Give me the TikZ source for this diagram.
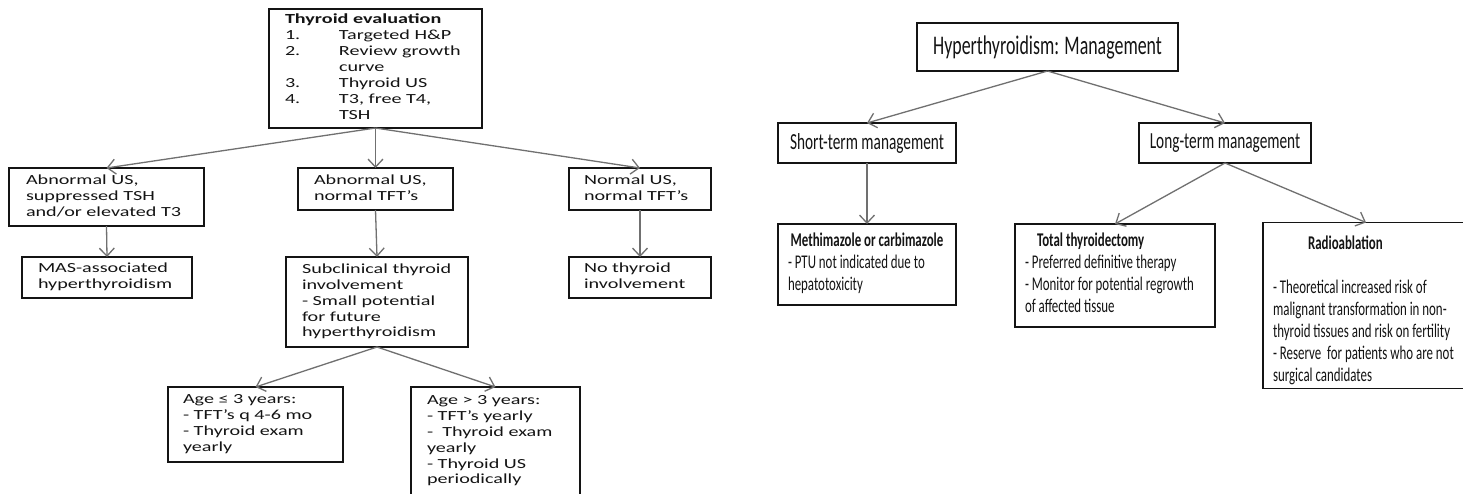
\documentclass[tikz,border=0pt]{standalone}
\usepackage{fontspec}
\usetikzlibrary{arrows.meta}

% Calibri-metric face, widened for the evaluation chart, narrowed for the management chart
\newfontfamily\leftfont[FakeStretch=1.45]{Carlito}
\newfontfamily\rightfont[FakeStretch=0.665]{Carlito}

\definecolor{ink}{HTML}{141414}
\definecolor{linkgray}{HTML}{707070}

% a block of left-aligned lines inside a box of fixed inner width
\newcommand\lines[2]{\makebox[#1][l]{\begin{tabular}{@{}l@{}}#2\end{tabular}}}

\tikzset{
  box/.style={draw=ink, line width=1.7pt, rectangle, inner sep=0pt, outer sep=0pt, text=ink},
  lbox/.style={box, font={\leftfont\fontsize{13.9}{15.9}\selectfont}},
  rbody/.style={box, font={\rightfont\fontsize{19.4}{22}\selectfont}},
  rmid/.style={box, font={\rightfont\fontsize{23}{26}\selectfont}},
  rtitle/.style={box, font={\rightfont\fontsize{26.9}{30}\selectfont}},
  link/.style={draw=linkgray, line width=1.3pt, -{Straight Barb[length=8pt,width=15pt]}}
}

\begin{document}
\begin{tikzpicture}[x=1pt, y=-1pt]
\useasboundingbox (0,0) rectangle (1463,493);
\fill[white] (0,0) rectangle (1463,493);
\clip (0,0) rectangle (1463,493);

% ---------------- thyroid evaluation chart ----------------
\node[lbox, minimum width=213pt, minimum height=119pt] (eval) at (375.5,68.5)
  {\lines{181pt}{\bfseries Thyroid evaluation\\
   \makebox[54pt][l]{1.}Targeted H\&P\\
   \makebox[54pt][l]{2.}Review growth\\
   \hspace*{54pt}curve\\
   \makebox[54pt][l]{3.}Thyroid US\\
   \makebox[54pt][l]{4.}T3, free T4,\\
   \hspace*{54pt}TSH}};

\node[lbox, minimum width=195pt, minimum height=58pt] (absup) at (106.5,197)
  {\lines{161pt}{Abnormal US,\\ suppressed TSH\\ and/or elevated T3}};
\node[lbox, minimum width=155pt, minimum height=42pt] (abnorm) at (375.5,189)
  {\lines{123pt}{Abnormal US,\\ normal TFT’s}};
\node[lbox, minimum width=142pt, minimum height=42pt] (normal) at (640,189)
  {\lines{112pt}{Normal US,\\ normal TFT’s}};

\node[lbox, minimum width=170pt, minimum height=41pt] (mas) at (107,277.5)
  {\lines{138pt}{MAS-associated\\ hyperthyroidism}};
\node[lbox, minimum width=182pt, minimum height=90pt] (subclin) at (377,302)
  {\lines{150pt}{Subclinical thyroid\\ involvement\\ - Small potential\\ for future\\ hyperthyroidism}};
\node[lbox, minimum width=142pt, minimum height=41pt] (noinv) at (640,277.5)
  {\lines{112pt}{No thyroid\\ involvement}};

\node[lbox, minimum width=175pt, minimum height=75pt] (young) at (255.5,424.5)
  {\lines{145pt}{Age ≤ 3 years:\\ - TFT’s q 4-6 mo\\ - Thyroid exam\\ yearly}};
\node[lbox, minimum width=169pt, minimum height=108pt] (older) at (495.5,441)
  {\lines{137pt}{Age > 3 years:\\ - TFT’s yearly\\ -\ \ Thyroid exam\\ yearly\\ - Thyroid US\\ periodically}};

\draw[link] (eval.south) -- (absup.north);
\draw[link] (eval.south) -- (abnorm.north);
\draw[link] (eval.south) -- (normal.north);
\draw[link] (absup.south) -- (mas.north);
\draw[link] (abnorm.south) -- (subclin.north);
\draw[link] (normal.south) -- (noinv.north);
\draw[link] (subclin.south) -- (young.north);
\draw[link] (subclin.south) -- (older.north);

% ---------------- hyperthyroidism management chart ----------------
\node[rtitle, minimum width=261pt, minimum height=48pt] (mgmt) at (1047.5,47)
  {Hyperthyroidism: Management};
\node[rmid, minimum width=178pt, minimum height=40pt] (short) at (867,143)
  {Short-term management};
\node[rmid, minimum width=172pt, minimum height=40pt] (long) at (1225,143)
  {Long-term management};

\node[rbody, minimum width=178pt, minimum height=81pt] (drug) at (867,264.5)
  {\lines{158pt}{\makebox[158pt][c]{\bfseries Methimazole or carbimazole}\\
   - PTU not indicated due to\\ hepatotoxicity}};
\node[rbody, minimum width=200pt, minimum height=103pt] (surgery) at (1115,275.5)
  {\lines{180pt}{\hspace*{12pt}\bfseries Total thyroidectomy\\
   - Preferred definitive therapy\\
   - Monitor for potential regrowth\\ of affected tissue}};
\node[rbody, minimum width=206pt, minimum height=163pt] (radio) at (1366,305.5)
  {\lines{186pt}{\\[-10pt]
   \hspace*{35pt}\bfseries Radioablation\\[22pt]
   - Theoretical increased risk of\\
   malignant transformation in non-\\
   thyroid tissues and risk on fertility\\
   - Reserve\ \ for patients who are not\\
   surgical candidates}};

\draw[link] (mgmt.south) -- (short.north);
\draw[link] (mgmt.south) -- (long.north);
\draw[link] (short.south) -- (drug.north);
\draw[link] (long.south) -- (surgery.north);
\draw[link] (long.south) -- (radio.north);
\end{tikzpicture}
\end{document}
